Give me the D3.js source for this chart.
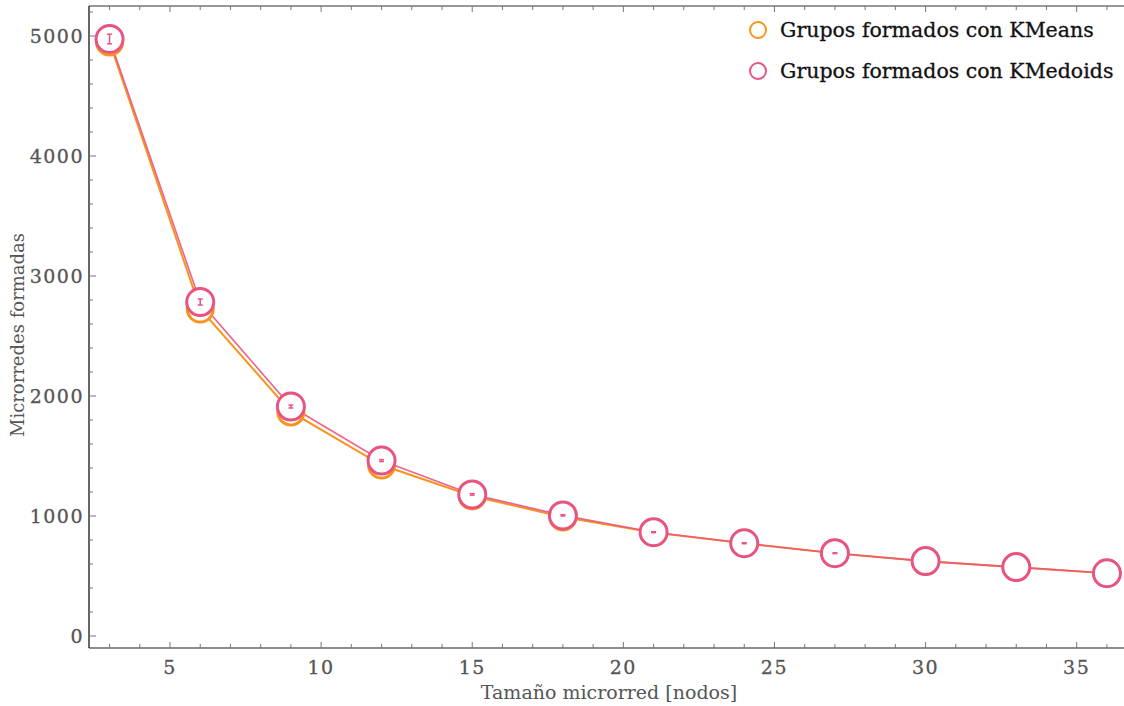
<!DOCTYPE html>
<html><head><meta charset="utf-8">
<script src="https://cdn.jsdelivr.net/npm/d3@7"></script>
<style>body{margin:0;background:#fff}</style>
</head><body>
<svg id="c" width="1124" height="706"></svg>
<script>
const sizes = [3,6,9,12,15,18,21,24,27,30,33,36];
const kmeans = [4950,2725,1867,1425,1167,992,862,772,690,623,573,523];
const kmedoids = [4975,2783,1912,1462,1180,1005,865,773,690,624,574,523];
const kmedoidsErr = [40,25,12,8,6,5,4,4,3,0,0,0];
const seriesNames = ["Grupos formados con KMeans","Grupos formados con KMedoids"];
const xTicks = [5,10,15,20,25,30,35];
const yTicks = [0,1000,2000,3000,4000,5000];
const xLabel = "Tamaño microrred [nodos]";
const yLabel = "Microrredes formadas";

const font = "'DejaVu Serif', serif";
const svg = d3.select("#c");
const L=89, T=6, B=648;
const x = d3.scaleLinear().domain([5,35]).range([170,1076.7]);
const y = d3.scaleLinear().domain([0,5000]).range([636,36]);

const orange="#f7941d", pink="#e8547f", axisCol="#555";

// frame
svg.append("line").attr("x1",L).attr("x2",1124).attr("y1",B).attr("y2",B).attr("stroke","#666").attr("stroke-width",1.5);
svg.append("line").attr("x1",L).attr("x2",L).attr("y1",T).attr("y2",B).attr("stroke","#333").attr("stroke-width",1.5);
svg.append("line").attr("x1",L).attr("x2",1124).attr("y1",T).attr("y2",T).attr("stroke","#333").attr("stroke-width",1.2);

// ticks
const xMinor = d3.range(3,37,1), yMinor = d3.range(-0,5201,200);
const tg = svg.append("g").attr("stroke","#777").attr("stroke-width",1);
xMinor.forEach(v=>{const big=v%5===0; const len=big?6:4;
  tg.append("line").attr("x1",x(v)).attr("x2",x(v)).attr("y1",B).attr("y2",B-len);
  tg.append("line").attr("x1",x(v)).attr("x2",x(v)).attr("y1",T).attr("y2",T+len);});
yMinor.forEach(v=>{const big=v%1000===0; const len=big?7:4;
  tg.append("line").attr("x1",L).attr("x2",L+len).attr("y1",y(v)).attr("y2",y(v));});

svg.selectAll(".xt").data(xTicks).enter().append("text")
  .attr("x",d=>x(d)).attr("y",B+26).attr("text-anchor","middle")
  .attr("font-family",font).attr("font-size",19).attr("letter-spacing",1.5)
  .attr("stroke",axisCol).attr("stroke-width",0.3)
  .attr("fill",axisCol).text(d=>d);
svg.selectAll(".yt").data(yTicks).enter().append("text")
  .attr("x",L-5).attr("y",d=>y(d)+7).attr("text-anchor","end")
  .attr("font-family",font).attr("font-size",19).attr("letter-spacing",1.5)
  .attr("stroke",axisCol).attr("stroke-width",0.3)
  .attr("fill",axisCol).text(d=>d);

svg.append("text").attr("x",609).attr("y",699).attr("text-anchor","middle")
  .attr("font-family",font).attr("font-size",19).attr("fill",axisCol).text(xLabel);
svg.append("text").attr("transform","translate(24,335) rotate(-90)").attr("text-anchor","middle")
  .attr("font-family",font).attr("font-size",18).attr("fill",axisCol).text(yLabel);

const line = d3.line().x((d,i)=>x(sizes[i])).y(d=>y(d));
svg.append("path").datum(kmeans).attr("d",line).attr("fill","none").attr("stroke",orange).attr("stroke-width",2);
svg.append("path").datum(kmedoids).attr("d",line).attr("fill","none").attr("stroke",pink).attr("stroke-width",1.6).attr("opacity",0.9);

// markers
svg.selectAll(".m1").data(kmeans).enter().append("circle")
  .attr("cx",(d,i)=>x(sizes[i])).attr("cy",d=>y(d)).attr("r",13)
  .attr("fill","#fff").attr("stroke",orange).attr("stroke-width",3);
svg.selectAll(".m2").data(kmedoids).enter().append("circle")
  .attr("cx",(d,i)=>x(sizes[i])).attr("cy",d=>y(d)).attr("r",13.5)
  .attr("fill","#fff").attr("stroke",pink).attr("stroke-width",3);

// error bars
const eg = svg.append("g").attr("stroke",pink).attr("stroke-width",1.5);
kmedoids.forEach((d,i)=>{
  const e=kmedoidsErr[i]; if(!e) return;
  const cx=x(sizes[i]);
  const y1=y(d-e), y2=y(d+e);
  eg.append("line").attr("x1",cx).attr("x2",cx).attr("y1",y1).attr("y2",y2);
  eg.append("line").attr("x1",cx-2.5).attr("x2",cx+2.5).attr("y1",y1).attr("y2",y1);
  eg.append("line").attr("x1",cx-2.5).attr("x2",cx+2.5).attr("y1",y2).attr("y2",y2);
});

// legend
const lg = svg.append("g");
[orange,pink].forEach((c,i)=>{
  const cy = 30 + i*41;
  lg.append("circle").attr("cx",758).attr("cy",cy).attr("r",8).attr("fill","#fff").attr("stroke",c).attr("stroke-width",2);
  lg.append("text").attr("x",780).attr("y",cy+7).attr("font-family",font).attr("font-size",20.5)
    .attr("stroke","#111").attr("stroke-width",0.3)
    .attr("fill","#111").text(seriesNames[i]);
});
</script>
</body></html>
